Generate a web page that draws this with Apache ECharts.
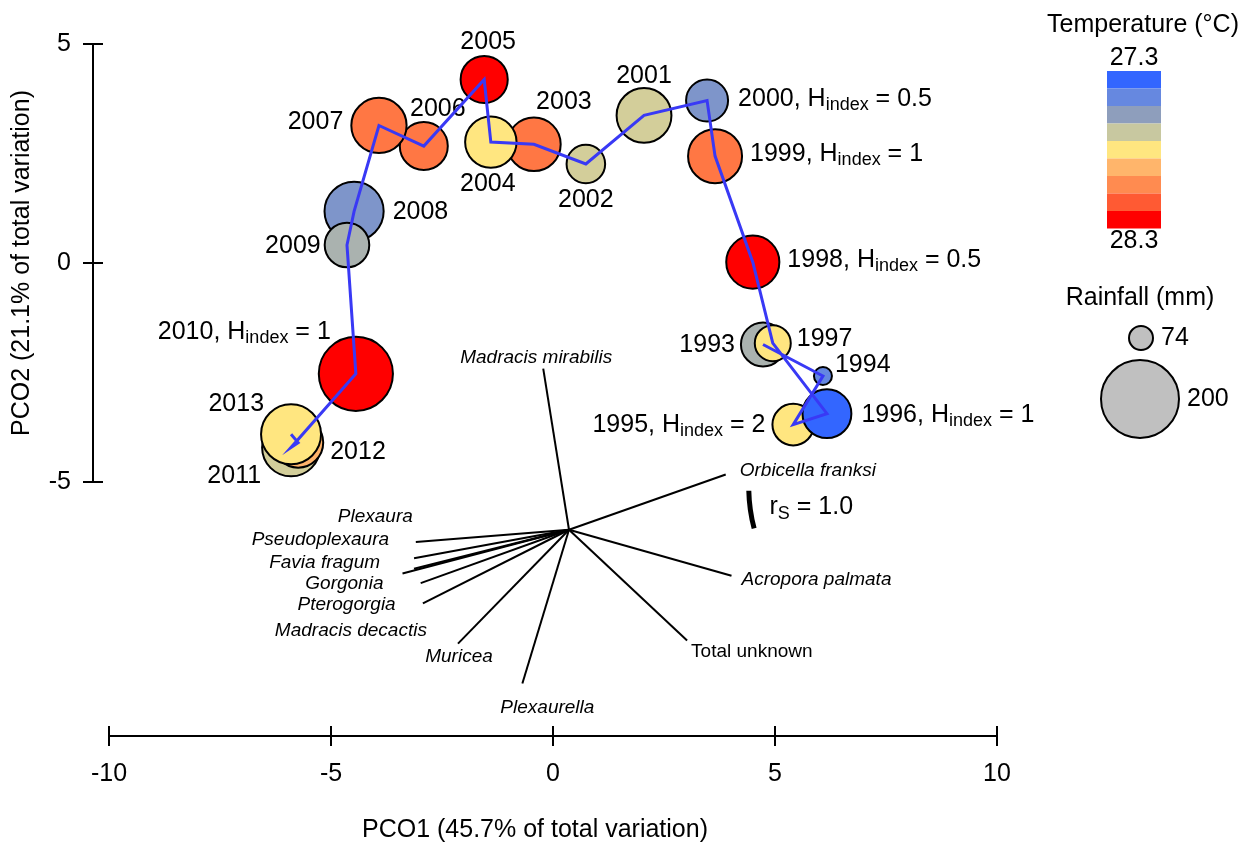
<!DOCTYPE html>
<html>
<head>
<meta charset="utf-8">
<script src="https://cdn.jsdelivr.net/npm/echarts@6/dist/echarts.min.js"></script>
<style>html,body{margin:0;padding:0;background:#fff}#c{width:1255px;height:848px}</style>
</head>
<body>
<div id="c"></div>
<script>
// ---------------- data ----------------
const years = [1993, 1994, 1995, 1996, 1997, 1998, 1999, 2000, 2001, 2002, 2003, 2004, 2005, 2006, 2007, 2008, 2009, 2010, 2011, 2012, 2013];
const pco1 = [4.73, 6.08, 5.41, 6.17, 4.95, 4.50, 3.65, 3.47, 2.05, 0.74, -0.43, -1.40, -1.55, -2.91, -3.92, -4.48, -4.64, -4.44, -5.90, -5.74, -5.90];
const pco2 = [-1.86, -2.58, -3.69, -3.44, -1.83, 0.02, 2.44, 3.71, 3.37, 2.26, 2.71, 2.76, 4.19, 2.67, 3.14, 1.18, 0.41, -2.53, -4.21, -4.10, -3.91];
const rainfall = [121, 60, 115, 132, 102, 142, 144, 116, 146, 108, 143, 138, 128, 130, 147, 156, 122, 191, 153, 135, 158];
const temperature = [27.61, 27.42, 27.8, 27.3, 27.8, 28.3, 28.1, 27.5, 27.70, 27.70, 28.1, 27.8, 28.3, 28.1, 28.1, 27.5, 27.61, 28.3, 27.70, 27.93, 27.8];
const hIndex = [null, null, 2, 1, null, 0.5, 1, 0.5, null, null, null, null, null, null, null, null, null, 1, null, null, null];

const speciesNames = ['Madracis mirabilis', 'Orbicella franksi', 'Acropora palmata', 'Total unknown', 'Plexaurella', 'Muricea', 'Madracis decactis', 'Pterogorgia', 'Gorgonia', 'Favia fragum', 'Pseudoplexaura', 'Plexaura'];
const vectorOrigin = [0.36, -6.09];
const vectorX = [-0.22, 3.89, 4.02, 3.02, -0.69, -2.14, -2.93, -2.98, -3.39, -3.13, -3.13, -3.09];
const vectorY = [-2.41, -4.83, -7.14, -8.62, -9.60, -8.69, -7.77, -7.31, -7.09, -6.98, -6.74, -6.37];
const speciesItalic = [true, true, true, false, true, true, true, true, true, true, true, true];

const rsBarX = [4.41, 4.53];
const rsBarY = [-5.20, -6.06];

const tempRange = [27.3, 28.3];
const tempTickLabels = ['28.3', '27.3'];
const rainLegendValues = [74, 200];
const xTicks = { min: -10, max: 10, interval: 5 };
const yTicks = { min: -5, max: 5, interval: 5 };

// ---------------- styles ----------------
const FONT = '"Liberation Sans", Arial, sans-serif';
const palette = ['#3366FF', '#6688E0', '#8E9EBC', '#C8C8A0', '#FFE680', '#FFB56B', '#FF8B50', '#FF5A33', '#FF0000'];
const sizeOf = r => 24 + (r - 74) * 54 / 126;   // symbol diameter (px) from rainfall

// label placement per year: [position, distance, offsetX, offsetY]
const yearLabelLayout = {
  1993: ['left', 5, 0, 1], 1994: ['right', 2, 0, -11], 1995: ['left', 6, 0, 0], 1996: ['right', 9, 0, 1],
  1997: ['right', 5, 0, -4], 1998: ['right', 7, 0, -2], 1999: ['right', 7, 0, -2], 2000: ['right', 9, 0, -1],
  2001: ['top', 0, 0, 4], 2002: ['bottom', 0, 0, 1], 2003: ['top', 0, 30, 1], 2004: ['bottom', 0, -3, 0],
  2005: ['top', 0, 4, 2], 2006: ['top', 0, 14, 3], 2007: ['left', 7, 0, -3], 2008: ['right', 8, 0, 1],
  2009: ['left', 3, 0, 1], 2010: ['left', 0, 13, -42], 2011: ['left', 0, 0, 29], 2012: ['right', 6, 0, 10],
  2013: ['left', 0, 4, -30]
};
const speciesLabelLayout = [
  ['top', 1, -7, 0], ['right', 14, 0, -4], ['right', 10, 0, 4], ['right', 4, 0, 11],
  ['bottom', 15, 25, 0], ['bottom', 4, 1, 0], ['left', 0, 4, 27], ['left', 25, 0, 22],
  ['left', 19, 0, 10], ['left', 34, 0, -6], ['left', 25, 0, -18], ['left', 3, 0, -25]
];

const richText = {
  t: { fontSize: 25, lineHeight: 30, fontFamily: FONT, color: '#000', opacity: 1 },
  s: { fontSize: 18, lineHeight: 16, verticalAlign: 'bottom', fontFamily: FONT, color: '#000', opacity: 1 }
};

// ---------------- build ----------------
const bubbleData = years.map((y, i) => {
  const L = yearLabelLayout[y];
  const txt = hIndex[i] == null ? `{t|${y}}` : `{t|${y}, H}{s|index}{t| = ${hIndex[i]}}`;
  return {
    value: [pco1[i], pco2[i], rainfall[i], temperature[i]],
    label: { show: true, formatter: txt, position: L[0], distance: L[1], offset: [L[2], L[3]], rich: richText }
  };
});

const vectorData = speciesNames.map((n, i) => ({ coords: [vectorOrigin, [vectorX[i], vectorY[i]]] }));
const speciesLabelData = speciesNames.map((n, i) => {
  const L = speciesLabelLayout[i];
  return {
    value: [vectorX[i], vectorY[i]],
    label: {
      show: true, formatter: n, position: L[0], distance: L[1], offset: [L[2], L[3]], opacity: 1,
      fontSize: 19, fontStyle: speciesItalic[i] ? 'italic' : 'normal', fontFamily: FONT, color: '#000'
    }
  };
});
const pathCoords = years.map((y, i) => [pco1[i], pco2[i]]);
const rsMid = [(rsBarX[0] + rsBarX[1]) / 2, (rsBarY[0] + rsBarY[1]) / 2];

const step = (tempRange[1] - tempRange[0]) / palette.length;
const pieces = palette.map((c, i) => ({ min: tempRange[0] + i * step, max: tempRange[0] + (i + 1) * step, color: c }));

const baseAxis = {
  type: 'value',
  axisLine: { show: true, onZero: false, lineStyle: { color: '#000', width: 2 } },
  axisTick: { show: true, length: 10, lineStyle: { color: '#000', width: 2 } },
  splitLine: { show: false }
};

const chart = echarts.init(document.getElementById('c'), null, { renderer: 'canvas' });

// rain legend graphic
const rainCenters = [[1141, 338], [1140, 399]];
const rainGraphics = [];
rainLegendValues.forEach((v, i) => {
  const r = sizeOf(v) / 2;
  rainGraphics.push({
    type: 'circle', shape: { cx: rainCenters[i][0], cy: rainCenters[i][1], r: r },
    style: { fill: '#C0C0C0', stroke: '#000', lineWidth: 2 }
  });
  rainGraphics.push({
    type: 'text', x: rainCenters[i][0] + r + 8, y: rainCenters[i][1],
    style: { text: String(v), font: '25px ' + FONT, fill: '#000', align: 'left', verticalAlign: 'middle' }
  });
});

chart.setOption({
  animation: false,
  backgroundColor: '#fff',
  textStyle: { fontFamily: FONT },
  grid: { left: 109, right: 258, top: 44, bottom: 362, containLabel: false },
  xAxis: [
    Object.assign({}, baseAxis, {
      min: xTicks.min, max: xTicks.max, interval: xTicks.interval, position: 'bottom', offset: 254,
      axisLabel: { color: '#000', fontSize: 25, margin: 26, fontFamily: FONT },
      name: 'PCO1 (45.7% of total variation)', nameLocation: 'middle', nameGap: 82,
      nameTextStyle: { fontSize: 25, color: '#000', fontFamily: FONT, padding: [0, 36, 0, 0] }
    }),
    Object.assign({}, baseAxis, {
      min: xTicks.min, max: xTicks.max, interval: xTicks.interval, position: 'bottom', offset: 254,
      axisLine: { show: false, onZero: false }, axisLabel: { show: false },
      axisTick: { show: true, inside: true, length: 10, lineStyle: { color: '#000', width: 2 } }
    })
  ],
  yAxis: [
    Object.assign({}, baseAxis, {
      min: yTicks.min, max: yTicks.max, interval: yTicks.interval, position: 'left', offset: 16,
      axisLabel: { color: '#000', fontSize: 25, margin: 22, fontFamily: FONT },
      name: 'PCO2 (21.1% of total variation)', nameLocation: 'middle', nameGap: 58,
      nameTextStyle: { fontSize: 25, color: '#000', fontFamily: FONT }
    }),
    Object.assign({}, baseAxis, {
      min: yTicks.min, max: yTicks.max, interval: yTicks.interval, position: 'left', offset: 16,
      axisLine: { show: false, onZero: false }, axisLabel: { show: false },
      axisTick: { show: true, inside: true, length: 10, lineStyle: { color: '#000', width: 2 } }
    })
  ],
  visualMap: [
    {
      type: 'continuous', show: false, seriesIndex: 2, dimension: 3,
      min: tempRange[0], max: tempRange[1], inRange: { color: palette }
    },
    {
      type: 'piecewise', seriesIndex: 6, orient: 'vertical', inverse: true,
      left: 1107, top: 46, padding: 0, itemWidth: 54, itemHeight: 17.5, itemGap: 0,
      itemSymbol: 'rect', text: tempTickLabels, selectedMode: false, hoverLink: false,
      textStyle: { fontSize: 25, color: '#000', fontFamily: FONT },
      pieces: pieces
    }
  ],
  graphic: [
    { type: 'text', x: 1143, y: 25, style: { text: 'Temperature (°C)', font: '25px ' + FONT, fill: '#000', align: 'center', verticalAlign: 'middle' } },
    { type: 'text', x: 1140, y: 298, style: { text: 'Rainfall (mm)', font: '25px ' + FONT, fill: '#000', align: 'center', verticalAlign: 'middle' } }
  ].concat(rainGraphics),
  series: [
    { // 0 species vectors
      type: 'lines', coordinateSystem: 'cartesian2d', clip: false, silent: true, z: 1,
      lineStyle: { color: '#000', width: 2, opacity: 1, curveness: 0 },
      data: vectorData
    },
    { // 1 rs bar
      type: 'lines', coordinateSystem: 'cartesian2d', clip: false, silent: true, z: 1,
      lineStyle: { color: '#000', width: 5, opacity: 1, curveness: -0.06 },
      data: [{ coords: [[rsBarX[0], rsBarY[0]], [rsBarX[1], rsBarY[1]]] }]
    },
    { // 2 bubbles
      type: 'scatter', clip: false, silent: true, z: 2,
      symbolSize: v => sizeOf(v[2]),
      itemStyle: { borderColor: '#000', borderWidth: 2, opacity: 1 },
      data: bubbleData
    },
    { // 3 trajectory
      type: 'lines', coordinateSystem: 'cartesian2d', polyline: true, clip: false, silent: true, z: 3,
      symbol: ['none', 'arrow'], symbolSize: 13,
      lineStyle: { color: '#3939F5', width: 3, opacity: 1 },
      data: [{ coords: pathCoords }]
    },
    { // 4 species labels
      type: 'scatter', clip: false, silent: true, z: 4, symbolSize: 0.01,
      itemStyle: { color: '#000', opacity: 1 },
      data: speciesLabelData
    },
    { // 5 rs label
      type: 'scatter', clip: false, silent: true, z: 4, symbolSize: 0.01,
      itemStyle: { color: '#000', opacity: 1 },
      data: [{ value: rsMid, label: { show: true, opacity: 1, formatter: '{t|r}{s|S}{t| = 1.0}', position: 'right', distance: 18, offset: [0, -2], rich: richText } }]
    },
    { // 6 dummy for temperature legend
      type: 'scatter', data: [], silent: true
    }
  ]
});
</script>
</body>
</html>
